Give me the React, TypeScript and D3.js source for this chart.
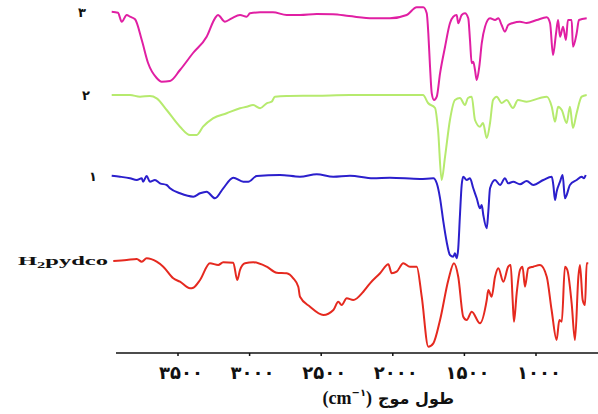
import React from "react";
import * as d3 from "d3";

// wavenumber (cm-1), relative intensity (a.u., stacked)
const trace3: [number, number][] = [
  [3963, 341.3], [3919, 340.3], [3893, 331.3], [3858, 338], [3835, 336.3], [3800, 333.7],
  [3753, 313], [3709, 290], [3649, 275], [3614, 271.3], [3556, 272], [3486, 283], [3395, 300],
  [3300, 316.3], [3242, 334.7], [3221, 338], [3172, 331.3], [3125, 334.7], [3067, 338],
  [3020, 336.3], [2997, 339.7], [2927, 340.7], [2837, 340.7], [2741, 338], [2648, 338],
  [2531, 339], [2418, 338.7], [2306, 337], [2138, 334.7], [2020, 334.7], [1903, 338],
  [1833, 345.7], [1787, 345.7], [1763, 339.7], [1752, 319.7], [1740, 286.3], [1728, 259.7],
  [1712, 253], [1693, 256.3], [1670, 279.7], [1635, 306.3], [1601, 329.7], [1578, 336.3],
  [1554, 338], [1543, 329.7], [1519, 338], [1496, 339.7], [1473, 334.7], [1461, 313],
  [1449, 289.7], [1438, 291.3], [1426, 283], [1414, 273], [1396, 286.3], [1379, 309.7],
  [1356, 326.3], [1321, 334.7], [1286, 333], [1263, 334.7], [1240, 328], [1217, 321.3],
  [1194, 328], [1161, 330], [1112, 331.3], [1065, 330], [995, 333], [925, 335.7], [902, 330],
  [881, 298], [860, 319.7], [846, 333], [832, 316.3], [811, 326.3], [791, 313], [777, 333],
  [751, 333], [742, 306.3], [716, 319.7], [700, 333], [646, 334.7],
];

const trace2: [number, number][] = [
  [3963, 258], [3835, 258], [3765, 256.3], [3696, 257], [3649, 254.7], [3579, 243],
  [3486, 226.3], [3416, 218], [3369, 218], [3325, 226.3], [3256, 234.7], [3160, 239.7],
  [3067, 244.7], [3020, 246.3], [2976, 248], [2927, 244.7], [2881, 249.7], [2846, 251.3],
  [2823, 256.3], [2741, 257], [2531, 257.3], [2299, 258], [1789, 258], [1754, 250],
  [1705, 245], [1684, 223], [1659, 173], [1635, 196.3], [1601, 233], [1566, 253], [1531, 255],
  [1496, 248], [1475, 255], [1449, 256.3], [1426, 233], [1391, 226.3], [1370, 230],
  [1344, 215], [1321, 230], [1300, 253], [1274, 256.3], [1240, 250], [1205, 253], [1161, 245],
  [1126, 253], [1065, 251.3], [972, 255], [925, 256.3], [890, 246.3], [867, 231.3],
  [846, 246.3], [820, 243], [786, 230], [763, 246.3], [742, 225], [716, 240], [681, 256.3],
  [646, 258],
];

const trace1: [number, number][] = [
  [3963, 177.3], [3905, 176.3], [3835, 174.7], [3788, 173], [3753, 174.7], [3744, 171.3],
  [3719, 177], [3696, 171.3], [3661, 173], [3626, 169.7], [3579, 168], [3556, 164.7],
  [3486, 159.7], [3393, 156.3], [3346, 159.7], [3300, 161.3], [3242, 154.7], [3184, 164.7],
  [3114, 175.3], [3044, 171.3], [3009, 171.3], [2950, 177], [2788, 178], [2648, 176.3],
  [2531, 178.7], [2416, 176.3], [2299, 177.3], [2138, 174.7], [2020, 175.3], [1810, 174],
  [1717, 174.7], [1693, 169.7], [1670, 154.7], [1647, 131.3], [1624, 111.3], [1601, 98],
  [1578, 96.3], [1566, 99.7], [1554, 94.7], [1543, 104.7], [1531, 138], [1519, 168],
  [1508, 176.3], [1484, 173], [1461, 174.7], [1438, 164.7], [1414, 154.7], [1391, 144.7],
  [1379, 148], [1368, 138], [1344, 124.7], [1333, 141.3], [1321, 164.7], [1286, 173],
  [1251, 168], [1217, 174.7], [1194, 169.7], [1159, 171.3], [1112, 168.7], [1065, 172],
  [1019, 168], [949, 173], [890, 176.3], [879, 168], [867, 153], [856, 161.3], [832, 171.3],
  [814, 178], [798, 154.7], [786, 158], [763, 168], [716, 173], [681, 176.3], [665, 174.7],
  [653, 178],
];

const traceLigand: [number, number][] = [
  [3952, 92], [3858, 93], [3788, 94], [3753, 91.3], [3719, 94.7], [3649, 91.3], [3603, 86.3],
  [3533, 74.7], [3486, 71.3], [3416, 64.7], [3393, 65.3], [3346, 73], [3277, 89.7],
  [3219, 88], [3184, 90.7], [3114, 90.3], [3086, 73], [3067, 83], [3032, 89.7], [2974, 90.7],
  [2881, 86.3], [2811, 80.3], [2741, 79.7], [2695, 74.7], [2660, 66.3], [2648, 56.3],
  [2578, 46.3], [2485, 38], [2415, 43], [2381, 51.3], [2357, 48], [2322, 54.7], [2276, 53],
  [2206, 61.3], [2159, 69.7], [2089, 79.7], [2031, 88.7], [2008, 79.7], [1973, 81.3],
  [1927, 89.7], [1880, 86.3], [1833, 86.3], [1798, 56.3], [1752, 6.3], [1717, 9.7], [1670, 33],
  [1612, 73], [1573, 89.7], [1543, 76.3], [1508, 36.3], [1484, 33], [1449, 41.3], [1391, 29.7],
  [1344, 53], [1333, 63], [1310, 56.3], [1286, 76.3], [1263, 84.7], [1228, 71.3], [1194, 86.3],
  [1177, 88], [1163, 53], [1154, 31.3], [1135, 59.7], [1112, 83], [1094, 86.3], [1077, 66.3],
  [1054, 84.7], [1019, 86.3], [972, 88], [925, 76.3], [891, 43], [856, 13], [837, 33],
  [820, 31.3], [798, 86.3], [781, 83], [751, 49.7], [728, 13], [704, 76.3], [693, 88],
  [674, 53], [658, 48], [646, 89.7], [635, 89.7],
];

const seriesNames = ["۳", "۲", "۱", "H₂pydco"];
const tickValues = [3500, 3000, 2500, 2000, 1500, 1000];
const tickLabels = ["۳۵۰۰", "۳۰۰۰", "۲۵۰۰", "۲۰۰۰", "۱۵۰۰", "۱۰۰۰"];

const series = [
  { name: seriesNames[0], data: trace3, color: "#e01fa3", lx: 82, anchor: "middle" },
  { name: seriesNames[1], data: trace2, color: "#b6ea6e", lx: 86, anchor: "middle" },
  { name: seriesNames[2], data: trace1, color: "#2b1fcc", lx: 93, anchor: "middle" },
  { name: seriesNames[3], data: traceLigand, color: "#e5291f", lx: 18, anchor: "start" },
];

export default function App() {
  const W = 598;
  const H = 414;
  const x = d3.scaleLinear().domain([3500, 1000]).range([178, 536]);
  const y = d3.scaleLinear().domain([0, 353]).range([353, 0]);
  const line = d3
    .line<[number, number]>()
    .x((d) => x(d[0]))
    .y((d) => y(d[1]))
    .curve(d3.curveMonotoneX);
  const axisY = y(0);

  return (
    <svg
      width={W}
      height={H}
      style={{ position: "absolute", left: 0, top: 0, background: "#fff" }}
    >
      <rect x={0} y={0} width={W} height={H} fill="#fff" />
      {series.map((s) => (
        <path
          key={s.name}
          d={line(s.data) || ""}
          fill="none"
          stroke={s.color}
          strokeWidth={2}
          strokeLinejoin="round"
        />
      ))}
      {series.map((s) => {
        const first = s.data[0];
        const ly = y(first[1]) + 4;
        if (s.anchor === "start") {
          return (
            <text
              key={"l" + s.name}
              x={s.lx}
              y={ly}
              fontFamily="'Liberation Serif', serif"
              fontWeight="bold"
              fontSize={12}
              textLength={90}
              lengthAdjust="spacingAndGlyphs"
              fill="#111"
            >
              H<tspan fontSize={8} dy={3}>2</tspan><tspan dy={-3}>pydco</tspan>
            </text>
          );
        }
        return (
          <text
            key={"l" + s.name}
            x={s.lx}
            y={ly + 1}
            textAnchor="middle"
            fontFamily="'DejaVu Sans', sans-serif"
            fontWeight="bold"
            fontSize={13}
            fill="#111"
          >
            {s.name}
          </text>
        );
      })}
      <line x1={116} x2={598} y1={axisY} y2={axisY} stroke="#111" strokeWidth={1.5} />
      {tickValues.map((t, i) => (
        <g key={t}>
          <line x1={x(t)} x2={x(t)} y1={axisY} y2={axisY + 3} stroke="#111" strokeWidth={1.5} />
          <text
            x={x(t) + 3}
            y={axisY + 26}
            textAnchor="middle"
            fontFamily="'DejaVu Sans', sans-serif"
            fontWeight="bold"
            fontSize={18}
            fill="#111"
          >
            {tickLabels[i]}
          </text>
        </g>
      ))}
      <text
        x={372}
        y={404}
        textAnchor="end"
        fontFamily="'Liberation Serif', serif"
        fontWeight="bold"
        fontSize={18}
        fill="#111"
      >
        (cm<tspan fontFamily="'DejaVu Sans', sans-serif" fontSize={10} dy={-8}>−۱</tspan><tspan dy={8}>)</tspan>
      </text>
      <text
        x={378}
        y={404}
        textAnchor="start"
        fontFamily="'DejaVu Sans', sans-serif"
        fontWeight="bold"
        fontSize={16}
        fill="#111"
      >
        طول موج
      </text>
    </svg>
  );
}
